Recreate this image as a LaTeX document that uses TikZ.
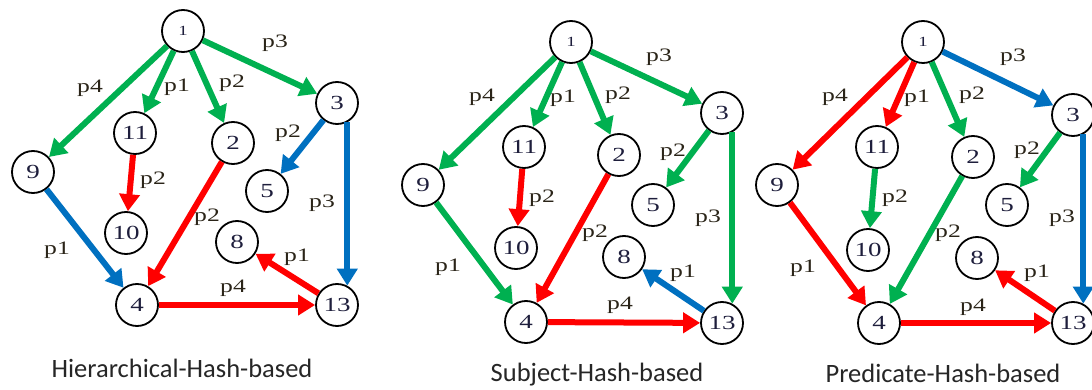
\documentclass[tikz,border=0pt]{standalone}
\usepackage{fontspec}
\setmainfont{Liberation Serif}
\newfontfamily\widefont[FakeStretch=1.35]{Liberation Serif}
\newfontfamily\titlefont{Carlito}
\usetikzlibrary{arrows.meta}
\definecolor{egreen}{HTML}{00B050}
\definecolor{ered}{HTML}{FF0000}
\definecolor{eblue}{HTML}{0070C0}
\definecolor{ink}{HTML}{1E1E3C}
\definecolor{lblink}{HTML}{2A2418}
\begin{document}
\begin{tikzpicture}[x=1pt,y=-1pt,
  vtx/.style={circle,draw=black,line width=1.8pt,minimum size=42pt,inner sep=0pt,
    font=\widefont\fontsize{20}{20}\selectfont,text=ink},
  root/.style={vtx,font=\widefont\fontsize{14}{14}\selectfont},
  arc/.style={line width=6pt,-{Triangle[length=17pt,width=20pt]}},
  egr/.style={arc,draw=egreen},
  erd/.style={arc,draw=ered},
  ebl/.style={arc,draw=eblue},
  lbl/.style={font=\widefont\fontsize{19}{19}\selectfont,text=lblink,inner sep=0pt},
  ttl/.style={font=\titlefont\fontsize{26.5}{26.5}\selectfont,text=black!85,inner sep=0pt}]
\useasboundingbox (0,0) rectangle (1092,390);

% ---------- Hierarchical-Hash-based ----------
\node[root] (a1)  at (183,31)  {1};
\node[vtx]  (a3)  at (337,103) {3};
\node[vtx]  (a11) at (135,133) {11};
\node[vtx]  (a2)  at (233,143) {2};
\node[vtx]  (a9)  at (33,172)  {9};
\node[vtx]  (a5)  at (267,191) {5};
\node[vtx]  (a10) at (126,233) {10};
\node[vtx]  (a8)  at (237,242) {8};
\node[vtx]  (a4)  at (137,305) {4};
\node[vtx]  (a13) at (337,305) {13};
\draw[egr] (a1) -- (a9);
\draw[egr] (a1) -- (a11);
\draw[egr] (a1) -- (a2);
\draw[egr] (a1) -- (a3);
\draw[ebl] (a3) -- (a5);
\draw[ebl] (a3.-62) -- (a13.62);
\draw[erd] (a11) -- (a10);
\draw[erd] (a2) -- (a4);
\draw[ebl] (a9) -- (a4);
\draw[erd] (a4) -- (a13);
\draw[erd] (a13) -- (a8);
\node[lbl] (ap13)  at (275,43)  {p3};
\node[lbl] (ap19)  at (90,88)   {p4};
\node[lbl] (ap111) at (177,87)  {p1};
\node[lbl] (ap12)  at (232,83)  {p2};
\node[lbl] (ap35)  at (288,133) {p2};
\node[lbl] (ap1110) at (153,180) {p2};
\node[lbl] (ap313) at (322,203) {p3};
\node[lbl] (ap24)  at (207,217) {p2};
\node[lbl] (ap94)  at (57,250)  {p1};
\node[lbl] (ap138) at (297,257) {p1};
\node[lbl] (ap413) at (233,288) {p4};
\node[ttl] (atitle) at (182,368) {Hierarchical-Hash-based};

% ---------- Subject-Hash-based ----------
\node[root] (b1)  at (571,42)  {1};
\node[vtx]  (b3)  at (722,113) {3};
\node[vtx]  (b11) at (524,147) {11};
\node[vtx]  (b2)  at (619,155) {2};
\node[vtx]  (b9)  at (423,185) {9};
\node[vtx]  (b5)  at (653,205) {5};
\node[vtx]  (b10) at (516,248) {10};
\node[vtx]  (b8)  at (624,257) {8};
\node[vtx]  (b4)  at (526,322) {4};
\node[vtx]  (b13) at (722,323) {13};
\draw[egr] (b1) -- (b9);
\draw[egr] (b1) -- (b11);
\draw[egr] (b1) -- (b2);
\draw[egr] (b1) -- (b3);
\draw[egr] (b3) -- (b5);
\draw[egr] (b3.-62) -- (b13.62);
\draw[erd] (b11) -- (b10);
\draw[erd] (b2) -- (b4);
\draw[egr] (b9) -- (b4);
\draw[erd] (b4) -- (b13);
\draw[ebl] (b13) -- (b8);
\node[lbl] (bp13)  at (659,57)  {p3};
\node[lbl] (bp19)  at (482,97)  {p4};
\node[lbl] (bp111) at (563,98)  {p1};
\node[lbl] (bp12)  at (618,95)  {p2};
\node[lbl] (bp35)  at (673,152) {p2};
\node[lbl] (bp1110) at (542,198) {p2};
\node[lbl] (bp313) at (708,218) {p3};
\node[lbl] (bp24)  at (595,233) {p2};
\node[lbl] (bp94)  at (448,267) {p1};
\node[lbl] (bp138) at (683,273) {p1};
\node[lbl] (bp413) at (620,305) {p4};
\node[ttl] (btitle) at (597,375) {Subject-Hash-based};

% ---------- Predicate-Hash-based ----------
\node[root] (c1)  at (923,42)  {1};
\node[vtx]  (c3)  at (1073,115) {3};
\node[vtx]  (c11) at (877,147) {11};
\node[vtx]  (c2)  at (973,157) {2};
\node[vtx]  (c9)  at (777,185) {9};
\node[vtx]  (c5)  at (1007,205) {5};
\node[vtx]  (c10) at (868,250) {10};
\node[vtx]  (c8)  at (977,258) {8};
\node[vtx]  (c4)  at (879,323) {4};
\node[vtx]  (c13) at (1073,323) {13};
\draw[erd] (c1) -- (c9);
\draw[erd] (c1) -- (c11);
\draw[egr] (c1) -- (c2);
\draw[ebl] (c1) -- (c3);
\draw[egr] (c3) -- (c5);
\draw[ebl] (c3.-62) -- (c13.62);
\draw[egr] (c11) -- (c10);
\draw[egr] (c2) -- (c4);
\draw[erd] (c9) -- (c4);
\draw[erd] (c4) -- (c13);
\draw[erd] (c13) -- (c8);
\node[lbl] (cp13)  at (1013,57) {p3};
\node[lbl] (cp19)  at (835,97)  {p4};
\node[lbl] (cp111) at (917,98)  {p1};
\node[lbl] (cp12)  at (972,95)  {p2};
\node[lbl] (cp35)  at (1027,150) {p2};
\node[lbl] (cp1110) at (895,198) {p2};
\node[lbl] (cp313) at (1062,218) {p3};
\node[lbl] (cp24)  at (948,233) {p2};
\node[lbl] (cp94)  at (803,268) {p1};
\node[lbl] (cp138) at (1037,273) {p1};
\node[lbl] (cp413) at (973,307) {p4};
\node[ttl] (ctitle) at (943,373) {Predicate-Hash-based};
\end{tikzpicture}
\end{document}
